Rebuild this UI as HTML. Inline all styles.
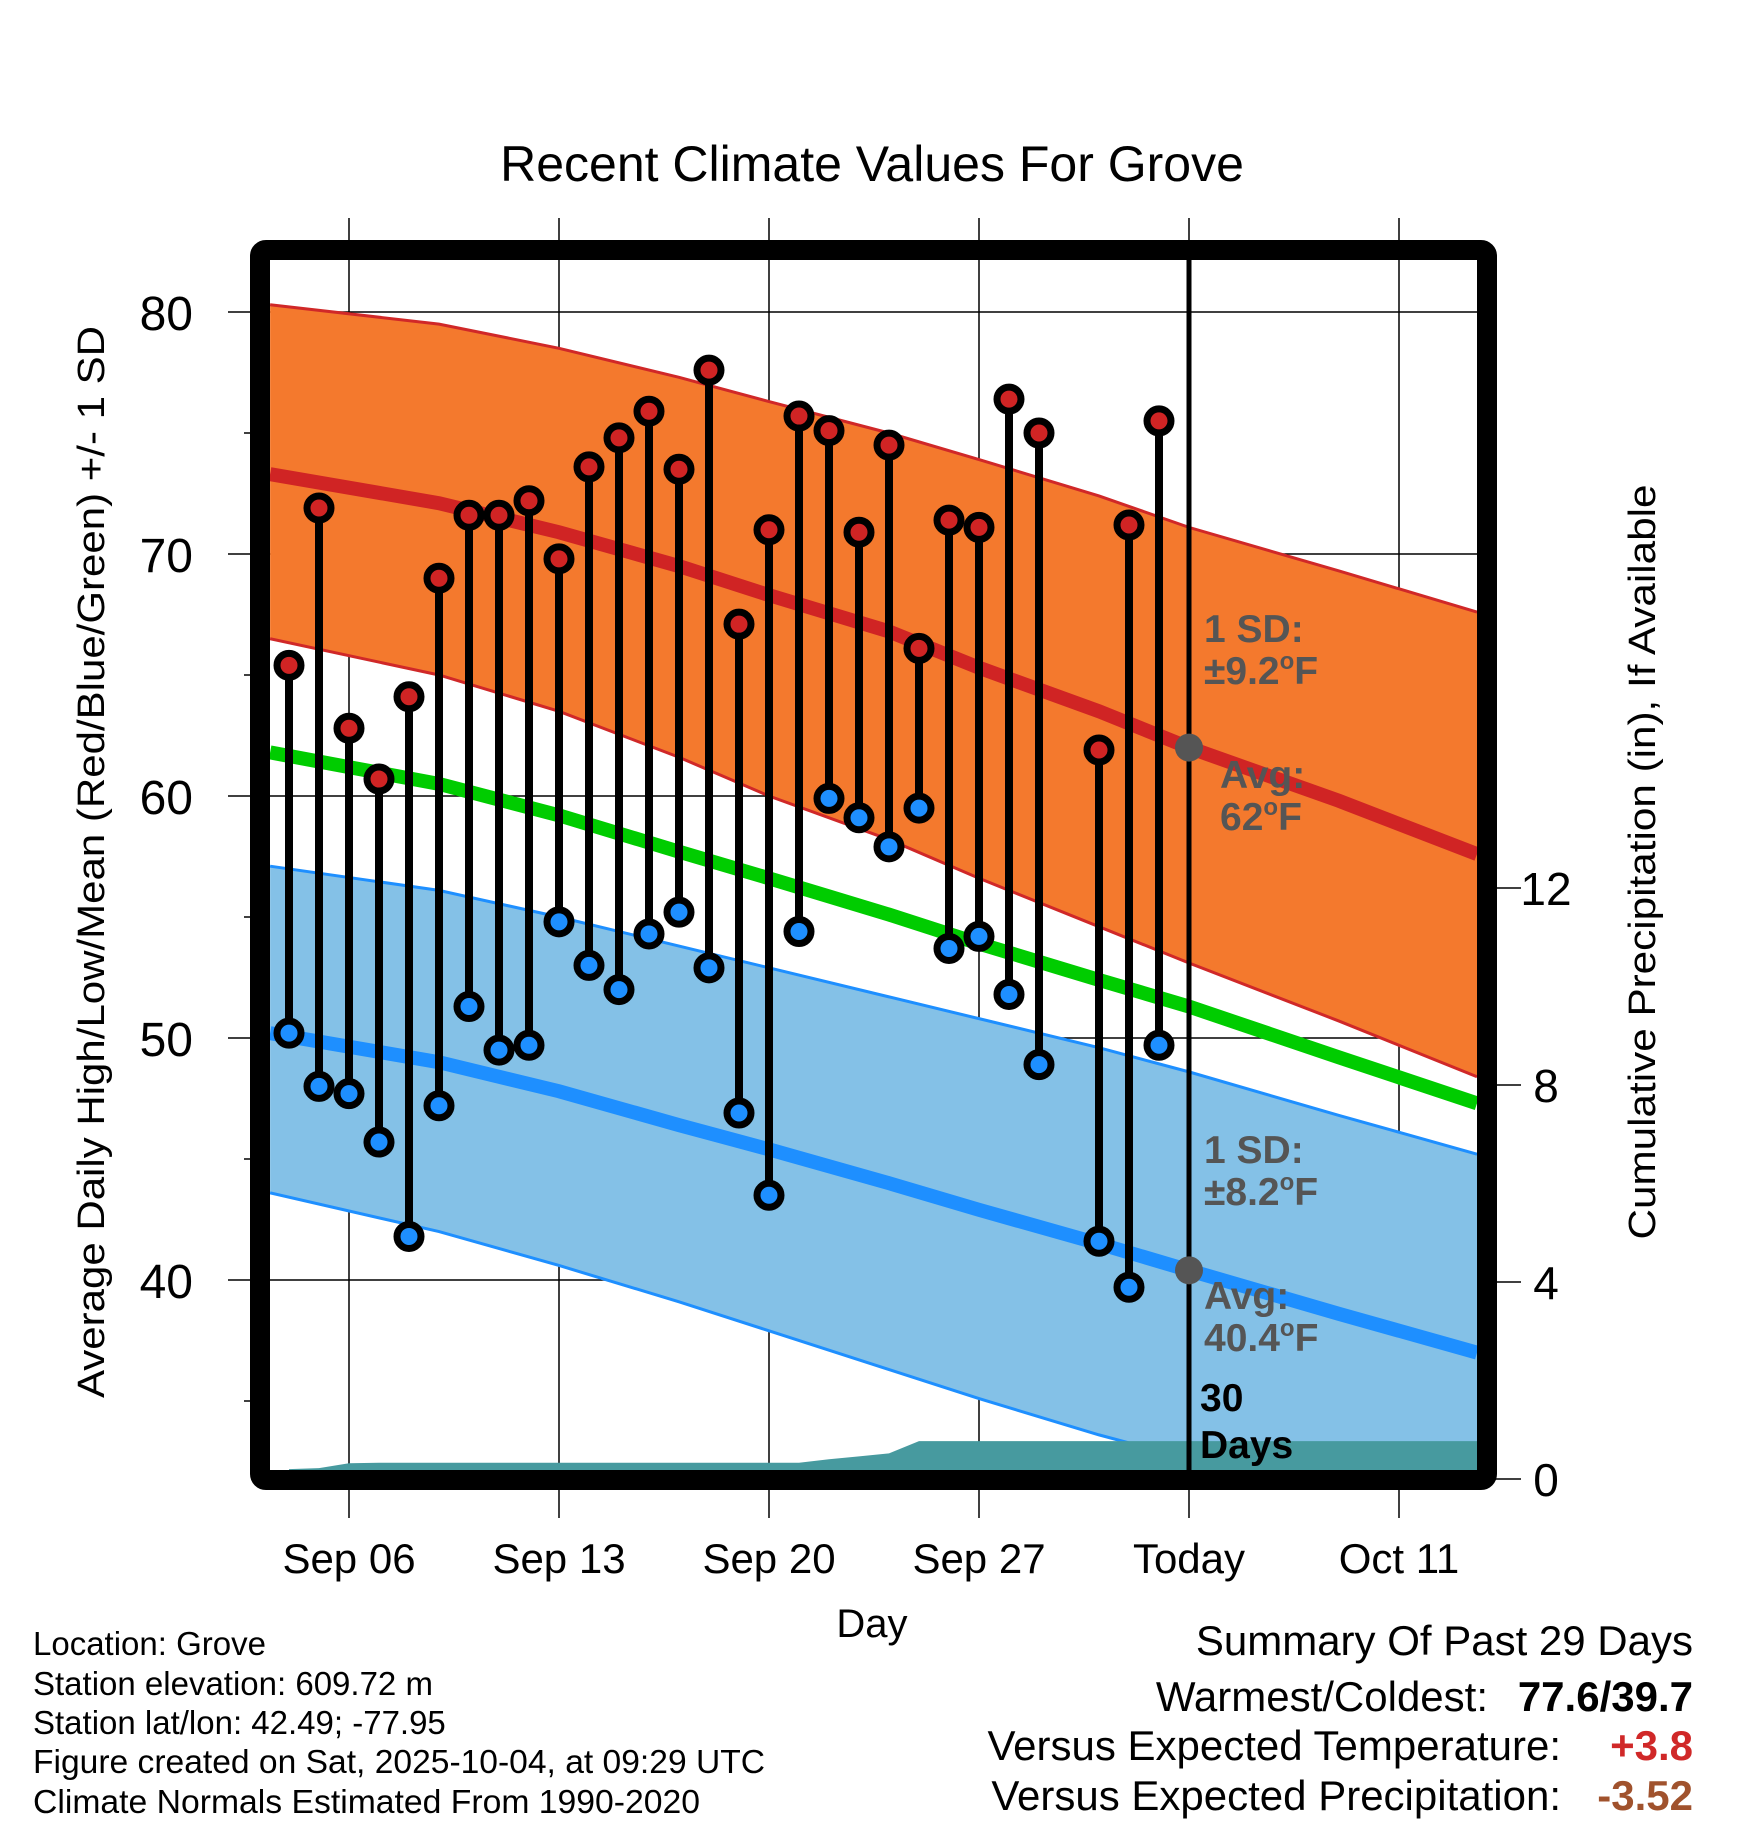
<!DOCTYPE html>
<html><head><meta charset="utf-8"><style>
html,body{margin:0;padding:0;background:#fff;}
svg{display:block;font-family:"Liberation Sans",Arial,sans-serif;}
</style></head><body>
<svg id="chart" width="1748" height="1828" viewBox="0 0 1748 1828" xmlns="http://www.w3.org/2000/svg">
<defs><clipPath id="plotclip"><rect x="270" y="260" width="1207" height="1210"/></clipPath></defs>
<text x="872" y="181" font-size="50" text-anchor="middle">Recent Climate Values For Grove</text>
<g id="grid"></g>
<g id="plot" clip-path="url(#plotclip)"></g>
<g id="marks"></g>
<g id="axes"></g>
<rect x="260" y="250" width="1227" height="1230" rx="6" fill="none" stroke="#000" stroke-width="20"/>
<g font-weight="bold" font-size="39" fill="#555">
<text x="1204" y="642">1 SD:</text>
<text x="1204" y="684">±9.2<tspan font-size="24" dy="-15">o</tspan><tspan dy="15">F</tspan></text>
<text x="1220" y="788">Avg:</text>
<text x="1220" y="830">62<tspan font-size="24" dy="-15">o</tspan><tspan dy="15">F</tspan></text>
<text x="1204" y="1163">1 SD:</text>
<text x="1204" y="1205">±8.2<tspan font-size="24" dy="-15">o</tspan><tspan dy="15">F</tspan></text>
<text x="1204" y="1309">Avg:</text>
<text x="1204" y="1351">40.4<tspan font-size="24" dy="-15">o</tspan><tspan dy="15">F</tspan></text>
<text x="1200" y="1411" fill="#000">30</text>
<text x="1200" y="1458" fill="#000">Days</text>
</g>
<text transform="translate(104,862) rotate(-90)" font-size="38" text-anchor="middle" textLength="1072" lengthAdjust="spacingAndGlyphs">Average Daily High/Low/Mean (Red/Blue/Green) +/- 1 SD</text>
<text transform="translate(1655,862) rotate(-90)" font-size="38" text-anchor="middle" textLength="755" lengthAdjust="spacingAndGlyphs">Cumulative Precipitation (in), If Available</text>
<text x="872" y="1637" font-size="40" text-anchor="middle">Day</text>
<g font-size="33">
<text x="33" y="1655">Location: Grove</text>
<text x="33" y="1695">Station elevation: 609.72 m</text>
<text x="33" y="1734">Station lat/lon: 42.49; -77.95</text>
<text x="33" y="1773" textLength="732" lengthAdjust="spacingAndGlyphs">Figure created on Sat, 2025-10-04, at 09:29 UTC</text>
<text x="33" y="1813" textLength="667" lengthAdjust="spacingAndGlyphs">Climate Normals Estimated From 1990-2020</text>
</g>
<g font-size="42" text-anchor="end">
<text x="1693" y="1655">Summary Of Past 29 Days</text>
<text x="1488" y="1711">Warmest/Coldest:</text>
<text x="1693" y="1711" font-weight="bold">77.6/39.7</text>
<text x="1561" y="1760">Versus Expected Temperature:</text>
<text x="1693" y="1760" font-weight="bold" fill="#d02828">+3.8</text>
<text x="1561" y="1810">Versus Expected Precipitation:</text>
<text x="1693" y="1810" font-weight="bold" fill="#a0522d">-3.52</text>
</g>
</svg>
<script>
// observation days (Sep day numbers; Oct n = 30+n)
const obsDays = [4,5,6,7,8,9,10,11,12,13,14,15,16,17,18,19,20,21,22,23,24,25,26,27,28,29,31,32,33];
const highs = [65.4,71.9,62.8,60.7,64.1,69.0,71.6,71.6,72.2,69.8,73.6,74.8,75.9,73.5,77.6,67.1,71.0,75.7,75.1,70.9,74.5,66.1,71.4,71.1,76.4,75.0,61.9,71.2,75.5];
const lows = [50.2,48.0,47.7,45.7,41.8,47.2,51.3,49.5,49.7,54.8,53.0,52.0,54.3,55.2,52.9,46.9,43.5,54.4,59.9,59.1,57.9,59.5,53.7,54.2,51.8,48.9,41.6,39.7,49.7];
// climate normals sampled at days
const normDays = [3.37,9,13,17,20,24,27,31,34,39,43.6];
const highAvg = [73.3,72.1,70.9,69.5,68.3,66.8,65.3,63.5,62.0,59.8,57.6];
const highUpper = [80.3,79.5,78.5,77.3,76.3,75.0,73.9,72.4,71.1,69.3,67.6];
const highLower = [66.5,65.0,63.5,61.6,60.0,58.2,56.6,54.6,53.1,50.7,48.4];
const meanAvg = [61.8,60.5,59.2,57.7,56.6,55.1,53.9,52.4,51.3,49.2,47.3];
const lowAvg = [50.2,49.0,47.8,46.4,45.4,44.0,42.9,41.5,40.4,38.6,37.0];
const lowUpper = [57.1,56.1,55.0,53.8,52.9,51.7,50.8,49.6,48.6,46.8,45.2];
const lowLower = [43.6,42.0,40.6,39.1,37.9,36.3,35.1,33.6,32.6,30.8,29.0];
// cumulative precipitation
const precipDays = [4,5,6,7,21,22,23,24,25,34,43.6];
const precipVals = [0.2,0.22,0.32,0.33,0.33,0.4,0.46,0.52,0.77,0.77,0.77];
// axes
const xTickDays = [6,13,20,27,34,41];
const xTickLabels = ["Sep 06","Sep 13","Sep 20","Sep 27","Today","Oct 11"];
const yTicks = [40,50,60,70,80];
const yMinor = [35,45,55,65,75];
const pTicks = [0,4,8,12];
const todayDay = 34;

const NS = "http://www.w3.org/2000/svg";
const xs = d => 349 + 30*(d-6);
const ys = v => 312 + (80-v)*24.2;
const yp = p => 1479 - p*49.25;
function mk(parent, tag, attrs){const e=document.createElementNS(NS,tag);for(const k in attrs)e.setAttribute(k,attrs[k]);parent.appendChild(e);return e;}
const grid=document.getElementById('grid'), plot=document.getElementById('plot'), marks=document.getElementById('marks'), axes=document.getElementById('axes');

xTickDays.forEach((d,i)=>{
  const l=mk(grid,'line',{x1:xs(d),x2:xs(d),y1:218,y2:1518,stroke:'#000','stroke-width':1.5});
  
  
  const t=mk(axes,'text',{x:xs(d),y:1573,'font-size':42,'text-anchor':'middle'});
  t.textContent=xTickLabels[i];
  
  
});
yTicks.forEach(v=>{
  const l=mk(grid,'line',{x1:228,x2:1477,y1:ys(v),y2:ys(v),stroke:'#000','stroke-width':1.5});
  
  
  const t=mk(axes,'text',{x:193,y:ys(v)+18,'font-size':48,'text-anchor':'end'});
  t.textContent=v;
  
  
});
yMinor.forEach(v=>{
  const l=mk(axes,'line',{x1:244,x2:260,y1:ys(v),y2:ys(v),stroke:'#000','stroke-width':1.5});
  
  
});
pTicks.forEach(p=>{
  const l=mk(axes,'line',{x1:1487,x2:1521,y1:yp(p),y2:yp(p),stroke:'#000','stroke-width':1.5});
  
  
  const t=mk(axes,'text',{x:1546,y:yp(p)+17,'font-size':46,'text-anchor':'middle'});
  t.textContent=p;
  
  
});

function linePts(arr){return normDays.map((d,i)=>xs(d)+','+ys(arr[i])).join(' ');}
function band(up,lo){return normDays.map((d,i)=>xs(d)+','+ys(up[i])).concat(normDays.slice().reverse().map((d,j)=>{const i=normDays.length-1-j;return xs(d)+','+ys(lo[i]);})).join(' ');}

let e;
e=mk(plot,'polygon',{points:band(lowUpper,lowLower),fill:'#84c1e7'});


e=mk(plot,'polygon',{points:band(highUpper,highLower),fill:'#f4792d'});


[[highUpper,'#d02828','high-upper-line'],[highLower,'#d02828','high-lower-line'],[lowUpper,'#1e8fff','low-upper-line'],[lowLower,'#1e8fff','low-lower-line']].forEach(([a,c,n])=>{
  const p=mk(plot,'polyline',{points:linePts(a),fill:'none',stroke:c,'stroke-width':3});
  
  
});
const pp=precipDays.map((d,i)=>xs(d)+','+yp(precipVals[i]));
pp.push(xs(precipDays[precipDays.length-1])+',1475');pp.push(xs(precipDays[0])+',1475');
e=mk(plot,'polygon',{points:pp.join(' '),fill:'#479a9f'});


e=mk(plot,'polyline',{points:linePts(meanAvg),fill:'none',stroke:'#00cc00','stroke-width':14});


e=mk(plot,'polyline',{points:linePts(highAvg),fill:'none',stroke:'#d02424','stroke-width':14});


e=mk(plot,'polyline',{points:linePts(lowAvg),fill:'none',stroke:'#1e8fff','stroke-width':14});


e=mk(plot,'line',{x1:xs(todayDay),x2:xs(todayDay),y1:260,y2:1470,stroke:'#000','stroke-width':5});


e=mk(plot,'circle',{cx:xs(todayDay),cy:ys(62),r:14,fill:'#555'});


e=mk(plot,'circle',{cx:xs(todayDay),cy:ys(40.4),r:14,fill:'#555'});



obsDays.forEach((d,i)=>{
  const x=xs(d);
  const s=mk(marks,'line',{x1:x,x2:x,y1:ys(highs[i]),y2:ys(lows[i]),stroke:'#000','stroke-width':8});
  
  
  const h=mk(marks,'circle',{cx:x,cy:ys(highs[i]),r:12,fill:'#d02424',stroke:'#000','stroke-width':7});
  
  
  const l=mk(marks,'circle',{cx:x,cy:ys(lows[i]),r:12,fill:'#1e8fff',stroke:'#000','stroke-width':7});
  
  
});
</script>
</body></html>
